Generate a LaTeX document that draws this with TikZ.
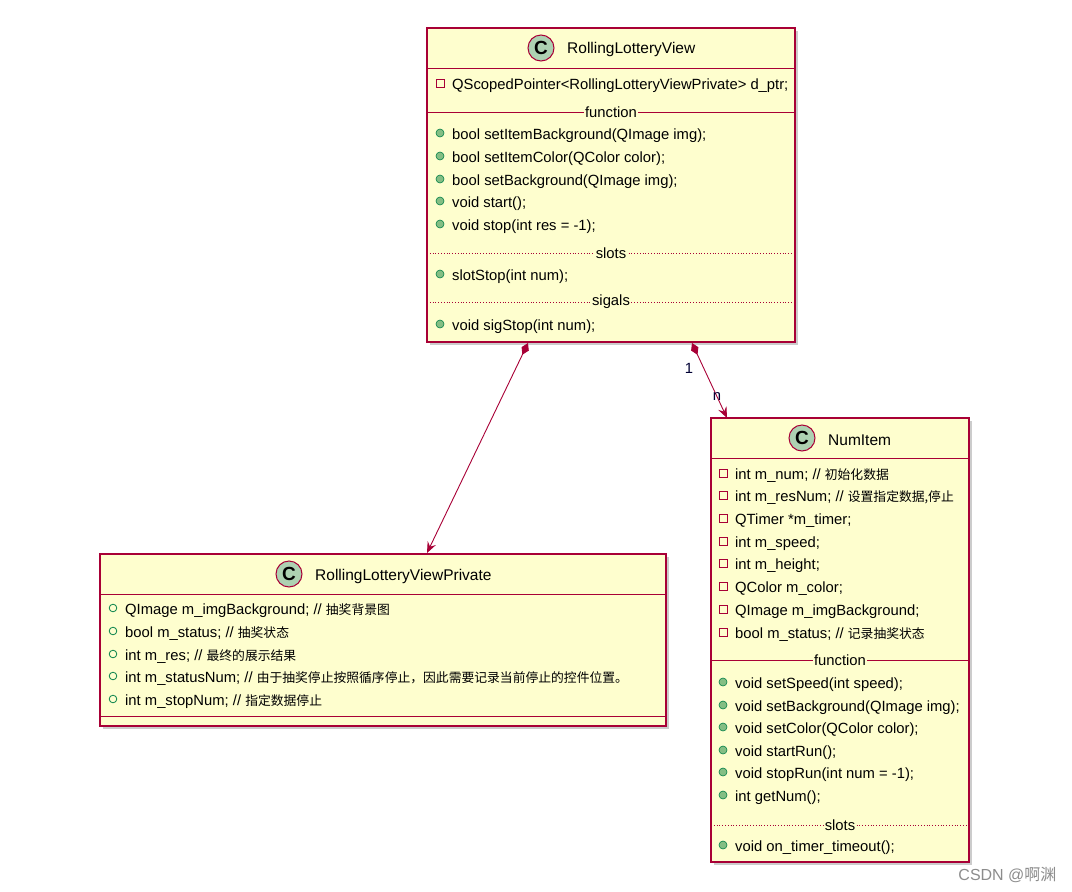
\documentclass[tikz,border=0pt]{standalone}
\usepackage{fontspec}
\setmainfont{Liberation Sans}
\newfontfamily\cjk{Noto Sans CJK SC}
\newcommand{\zh}[1]{{\cjk\fontsize{12.8}{16}\selectfont #1}}
\usetikzlibrary{positioning,arrows.meta,shadows}
\definecolor{umlfill}{HTML}{FEFECE}
\definecolor{umlline}{HTML}{A80036}
\definecolor{umlcirc}{HTML}{ADD1B2}
\definecolor{pubgreen}{HTML}{84BE84}
\definecolor{pubdark}{HTML}{038048}
\tikzset{
  classbox/.style={draw=umlline,fill=umlfill,line width=1.2pt,drop shadow={shadow xshift=3pt,shadow yshift=-3pt,opacity=0.4}},
  member/.style={anchor=west,inner sep=0pt,font=\fontsize{14.8}{16}\selectfont},
  seplabel/.style={fill=umlfill,inner sep=1pt,font=\fontsize{14.8}{16}\selectfont},
  titlelabel/.style={anchor=west,inner sep=0pt,font=\fontsize{15.5}{17}\selectfont},
  cmark/.style={circle,draw=umlline,fill=umlcirc,line width=1pt,minimum size=26pt,inner sep=0pt,font=\fontsize{19}{19}\bfseries\selectfont},
  composition/.style={umlline,line width=0.9pt,{Diamond[length=13pt,width=8pt,fill=umlline]}-{Stealth[length=11pt,width=9pt,inset=4pt]}},
}
% member icons
\newcommand{\privicon}[2]{\draw[umlline,line width=0.8pt] (#1-4,#2-2) rectangle (#1+4,#2+6);}
\newcommand{\pubicon}[2]{\fill[pubgreen,draw=pubdark,line width=0.6pt] (#1,#2+2) circle (4);}
\newcommand{\pkgicon}[2]{\draw[pubdark,line width=0.8pt] (#1,#2+2) circle (3.8);}
\begin{document}
\begin{tikzpicture}[x=1pt,y=-1pt]
\useasboundingbox (0,0) rectangle (1072,892);

% RollingLotteryView
\draw[classbox] (427,28) rectangle (795,342);
\node[cmark] (cview) at (541,48) {C};
\node[titlelabel] (tview) at (567,49) {RollingLotteryView};
\draw[umlline,line width=1pt] (427,68) -- (795,68);
\privicon{440}{81}
\node[member] at (452,86) {QScopedPointer<RollingLotteryViewPrivate> d\_ptr;};
\draw[umlline,line width=1pt] (427,112) -- (795,112);
\node[seplabel] at (611,112) {function};
\pubicon{440}{131}\node[member] at (452,136) {bool setItemBackground(QImage img);};
\pubicon{440}{154}\node[member] at (452,159) {bool setItemColor(QColor color);};
\pubicon{440}{177}\node[member] at (452,182) {bool setBackground(QImage img);};
\pubicon{440}{199}\node[member] at (452,204) {void start();};
\pubicon{440}{222}\node[member] at (452,227) {void stop(int res = -1);};
\draw[umlline,line width=0.8pt,dotted] (427,253) -- (795,253);
\node[seplabel] at (611,253) {slots};
\pubicon{440}{272}\node[member] at (452,277) {slotStop(int num);};
\draw[umlline,line width=0.8pt,dotted] (427,302) -- (795,302);
\node[seplabel] at (611,302) {sigals};
\pubicon{440}{322}\node[member] at (452,327) {void sigStop(int num);};
\coordinate (viewl) at (528,343);
\coordinate (viewr) at (692,343);

% RollingLotteryViewPrivate
\draw[classbox] (100,554) rectangle (666,726);
\node[cmark] (cpriv) at (289,574) {C};
\node[titlelabel] (tpriv) at (315,576) {RollingLotteryViewPrivate};
\draw[umlline,line width=1pt] (100,594) -- (666,594);
\pkgicon{113}{606}\node[member] at (125,611) {QImage m\_imgBackground; // \zh{抽奖背景图}};
\pkgicon{113}{629}\node[member] at (125,634) {bool m\_status; // \zh{抽奖状态}};
\pkgicon{113}{652}\node[member] at (125,657) {int m\_res; // \zh{最终的展示结果}};
\pkgicon{113}{674}\node[member] at (125,679) {int m\_statusNum; // \zh{由于抽奖停止按照循序停止，因此需要记录当前停止的控件位置。}};
\pkgicon{113}{697}\node[member] at (125,702) {int m\_stopNum; // \zh{指定数据停止}};
\draw[umlline,line width=1pt] (100,716) -- (666,716);
\coordinate (privtop) at (427,553);

% NumItem
\draw[classbox] (711,418) rectangle (969,862);
\node[cmark] (cnum) at (802,438) {C};
\node[titlelabel] (tnum) at (828,440) {NumItem};
\draw[umlline,line width=1pt] (711,458) -- (969,458);
\privicon{723}{471}\node[member] at (735,476) {int m\_num; // \zh{初始化数据}};
\privicon{723}{493}\node[member] at (735,498) {int m\_resNum; // \zh{设置指定数据,停止}};
\privicon{723}{516}\node[member] at (735,521) {QTimer *m\_timer;};
\privicon{723}{539}\node[member] at (735,544) {int m\_speed;};
\privicon{723}{561}\node[member] at (735,566) {int m\_height;};
\privicon{723}{584}\node[member] at (735,589) {QColor m\_color;};
\privicon{723}{607}\node[member] at (735,612) {QImage m\_imgBackground;};
\privicon{723}{630}\node[member] at (735,635) {bool m\_status; // \zh{记录抽奖状态}};
\draw[umlline,line width=1pt] (711,660) -- (969,660);
\node[seplabel] at (840,660) {function};
\pubicon{723}{680}\node[member] at (735,685) {void setSpeed(int speed);};
\pubicon{723}{703}\node[member] at (735,708) {void setBackground(QImage img);};
\pubicon{723}{725}\node[member] at (735,730) {void setColor(QColor color);};
\pubicon{723}{748}\node[member] at (735,753) {void startRun();};
\pubicon{723}{770}\node[member] at (735,775) {void stopRun(int num = -1);};
\pubicon{723}{793}\node[member] at (735,798) {int getNum();};
\draw[umlline,line width=0.8pt,dotted] (711,825) -- (969,825);
\node[seplabel] at (840,825) {slots};
\pubicon{723}{843}\node[member] at (735,848) {void on\_timer\_timeout();};
\coordinate (numtop) at (727,418);

% connectors
\draw[composition] (viewl) -- (privtop);
\draw[composition] (viewr) -- (numtop);
\node[font=\fontsize{14.8}{16}\selectfont,text=black!80!blue] (lone) at (689,368) {1};
\node[font=\fontsize{14.8}{16}\selectfont,text=black!80!blue] (lnum) at (717,397) {n};

\node[anchor=south east,text=black!45,font=\fontsize{16}{18}\selectfont] (mark) at (1060,886) {CSDN @\zh{\fontsize{16}{18}\selectfont 啊渊}};
\end{tikzpicture}
\end{document}
